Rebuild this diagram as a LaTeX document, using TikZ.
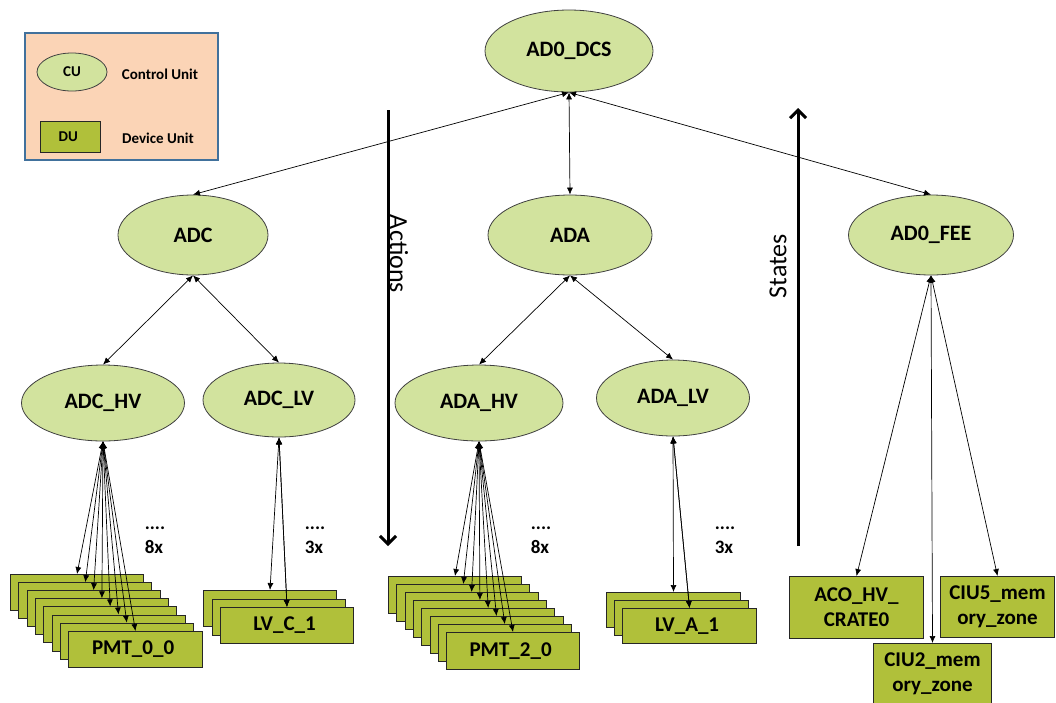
\documentclass[tikz,border=0pt]{standalone}
\usepackage{fontspec}
\setmainfont{Carlito}
\usetikzlibrary{shapes.geometric,arrows.meta}
\definecolor{cufill}{RGB}{210,227,158}
\definecolor{dufill}{RGB}{176,192,58}
\definecolor{legendfill}{RGB}{251,212,182}
\definecolor{legendline}{RGB}{65,113,156}
\begin{document}
\begin{tikzpicture}[
		x = 1pt, y = -1pt,
		cu/.style = { draw = black!75, line width = 0.8pt, ellipse, fill = cufill, inner sep = 0pt, font = \fontsize{22}{26}\selectfont\bfseries },
		du/.style = { draw = black!85, line width = 1pt, rectangle, fill = dufill, minimum width = 133pt, minimum height = 36pt, inner sep = 0pt, align = center, font = \fontsize{21}{25}\selectfont\bfseries },
		link/.style = { draw, line width = 0.7pt, {Latex[length = 7pt, width = 6pt]}-{Latex[length = 7pt, width = 6pt]} },
		flow/.style = { draw, line width = 3pt, -{Straight Barb[length = 8pt, width = 16pt]} },
		count/.style = { align = left, font = \fontsize{19}{24}\selectfont\bfseries }
	]
	\useasboundingbox (0,0) rectangle (1056,702);
	% legend
	\node [draw = legendline, line width = 1.5pt, fill = legendfill, minimum width = 193pt, minimum height = 127pt] (legend) at (121.5,96.5) {};
	\node [cu, minimum width = 70pt, minimum height = 38pt, font = \fontsize{15}{18}\selectfont\bfseries] (legcu) at (72,72) { CU };
	\node [font = \fontsize{15}{18}\selectfont\bfseries] (legcutext) at (160,74) { Control Unit };
	\node [du, minimum width = 60pt, minimum height = 31pt, font = \fontsize{15}{18}\selectfont\bfseries] (legdu) at (70,136.5) { DU };
	\node [font = \fontsize{15}{18}\selectfont\bfseries] (legdutext) at (158,138) { Device Unit };
	% control units
	\node [cu, minimum width = 168pt, minimum height = 82pt] (dcs) at (569,51) { AD0\_DCS };
	\node [cu, minimum width = 150pt, minimum height = 80pt] (adc) at (193,235) { ADC };
	\node [cu, minimum width = 164pt, minimum height = 80pt] (ada) at (570,235) { ADA };
	\node [cu, minimum width = 165pt, minimum height = 80pt] (fee) at (931,235) { AD0\_FEE };
	\node [cu, minimum width = 163pt, minimum height = 76pt] (adchv) at (103,403) { ADC\_HV };
	\node [cu, minimum width = 152pt, minimum height = 74pt] (adclv) at (279,400) { ADC\_LV };
	\node [cu, minimum width = 168pt, minimum height = 76pt] (adahv) at (479,403) { ADA\_HV };
	\node [cu, minimum width = 153pt, minimum height = 76pt] (adalv) at (673,398) { ADA\_LV };
	% device units
	\foreach \i in {0,...,6}
		\node [du, anchor = north west] (pmta\i) at ({10 + 8.3*\i}, {574 + 8.1*\i}) {};
	\node [du, anchor = north west, minimum width = 134pt] (pmt00) at (68,631) { PMT\_0\_0 };
	\foreach \i in {0,1}
		\node [du, anchor = north west] (lvc\i) at ({203 + 8.5*\i}, {590 + 8.5*\i}) {};
	\node [du, anchor = north west] (lvc1) at (220,607) { LV\_C\_1 };
	\foreach \i in {0,...,6}
		\node [du, anchor = north west, minimum height = 37pt] (pmtb\i) at ({388 + 8.3*\i}, {576 + 8*\i}) {};
	\node [du, anchor = north west, minimum height = 37pt] (pmt20) at (446,632) { PMT\_2\_0 };
	\foreach \i in {0,1}
		\node [du, anchor = north west, minimum width = 134pt, minimum height = 35pt] (lva\i) at ({606 + 8*\i}, {592 + 8*\i}) {};
	\node [du, anchor = north west, minimum width = 134pt, minimum height = 35pt] (lva1) at (622,608) { LV\_A\_1 };
	\node [du, anchor = north west, minimum width = 134pt, minimum height = 62pt] (aco) at (789,576) { ACO\_HV\_\\CRATE0 };
	\node [du, anchor = north west, minimum width = 114pt, minimum height = 61pt] (ciu5) at (940,576) { CIU5\_mem\\ory\_zone };
	\node [du, anchor = north west, minimum width = 118pt, minimum height = 61pt] (ciu2) at (873,643) { CIU2\_mem\\ory\_zone };
	% connectors
	\draw [link] (dcs.south) -- (adc.north);
	\draw [link] (dcs.south) -- (ada.north);
	\draw [link] (dcs.south) -- (fee.north);
	\draw [link] (adc.south) -- (adchv.north);
	\draw [link] (adc.south) -- (adclv.north);
	\draw [link] (ada.south) -- (adahv.north);
	\draw [link] (ada.south) -- (adalv.north);
	\foreach \i in {0,...,6}
		\draw [link] (adchv.south) -- (pmta\i.north);
	\draw [link] (adchv.south) -- (pmt00.north);
	\foreach \i in {0,1}
		\draw [link] (adclv.south) -- (lvc\i.north);
	\draw [link] (adclv.south) -- (lvc1.north);
	\foreach \i in {0,...,6}
		\draw [link] (adahv.south) -- (pmtb\i.north);
	\draw [link] (adahv.south) -- (pmt20.north);
	\foreach \i in {0,1}
		\draw [link] (adalv.south) -- (lva\i.north);
	\draw [link] (adalv.south) -- (lva1.north);
	\draw [link] (fee.south) -- (aco.north);
	\draw [link] (fee.south) -- (ciu2.north);
	\draw [link] (fee.south) -- (ciu5.north);
	% counts
	\node [count] (n1) at (155,540) { ....\\8x };
	\node [count] (n2) at (315,540) { ....\\3x };
	\node [count] (n3) at (541,540) { ....\\8x };
	\node [count] (n4) at (725,540) { ....\\3x };
	% actions and states
	\coordinate (acttop) at (388,110);
	\coordinate (actbot) at (388,546);
	\coordinate (stabot) at (798,546);
	\coordinate (statop) at (798,108);
	\draw [flow] (acttop) -- (actbot);
	\draw [flow] (stabot) -- (statop);
	\node [rotate = -90, font = \fontsize{26}{30}\selectfont] (actlabel) at (399,254) { Actions };
	\node [rotate = 90, font = \fontsize{26}{30}\selectfont] (stalabel) at (778,266) { States };
\end{tikzpicture}
\end{document}
